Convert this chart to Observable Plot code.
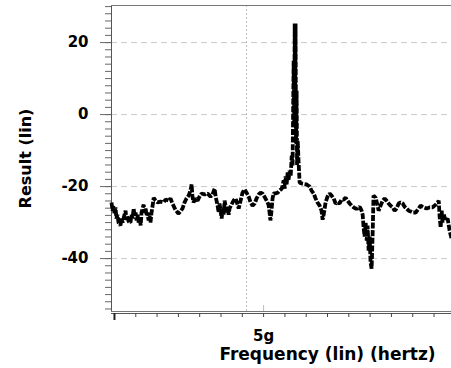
<!DOCTYPE html>
<html>
<head>
<meta charset="utf-8">
<script src="https://cdn.jsdelivr.net/npm/d3@7"></script>
<script src="https://cdn.jsdelivr.net/npm/@observablehq/plot@0.6"></script>
<style>
  html, body { margin: 0; padding: 0; background: #fff; }
</style>
</head>
<body>
<div id="chart"></div>
<script>
// Frequency in GHz (axis label "5g" = 5 GHz)
const freq = [4.286,4.291,4.295,4.300,4.305,4.309,4.314,4.319,4.328,4.333,4.338,4.347,4.352,4.356,4.361,4.366,4.375,4.380,4.385,4.390,4.394,4.399,4.404,4.408,4.413,4.418,4.423,4.427,4.432,4.437,4.441,4.446,4.451,4.455,4.460,4.465,4.469,4.474,4.479,4.484,4.493,4.502,4.516,4.530,4.540,4.554,4.563,4.572,4.586,4.600,4.610,4.619,4.629,4.638,4.648,4.657,4.662,4.666,4.671,4.680,4.690,4.699,4.709,4.723,4.737,4.751,4.760,4.770,4.775,4.779,4.784,4.789,4.793,4.798,4.803,4.808,4.812,4.817,4.822,4.826,4.831,4.836,4.840,4.849,4.859,4.868,4.878,4.883,4.892,4.901,4.911,4.920,4.930,4.939,4.948,4.958,4.967,4.977,4.986,4.995,5.004,5.014,5.023,5.028,5.032,5.037,5.042,5.047,5.056,5.066,5.075,5.085,5.089,5.094,5.099,5.103,5.108,5.113,5.117,5.122,5.127,5.132,5.136,5.141,5.144,5.146,5.148,5.150,5.152,5.155,5.157,5.160,5.164,5.169,5.183,5.202,5.216,5.225,5.235,5.244,5.253,5.263,5.272,5.277,5.282,5.291,5.300,5.310,5.319,5.329,5.338,5.347,5.357,5.366,5.376,5.385,5.394,5.404,5.413,5.423,5.432,5.441,5.451,5.460,5.465,5.469,5.474,5.479,5.484,5.488,5.493,5.498,5.502,5.507,5.512,5.516,5.526,5.535,5.540,5.549,5.559,5.568,5.577,5.587,5.596,5.606,5.615,5.624,5.634,5.643,5.653,5.662,5.671,5.681,5.690,5.700,5.714,5.728,5.737,5.751,5.765,5.779,5.793,5.808,5.817,5.822,5.826,5.831,5.836,5.840,5.845,5.854,5.864,5.873,5.882];
const result = [-24.4,-26.7,-25.3,-27.5,-25.8,-28.9,-27.8,-30.0,-30.8,-28.9,-30.0,-27.8,-26.7,-29.2,-28.1,-29.7,-30.0,-27.8,-28.9,-26.1,-28.1,-27.2,-29.4,-27.8,-30.0,-28.9,-30.8,-27.2,-26.1,-25.0,-27.2,-26.1,-28.1,-27.2,-29.4,-28.1,-30.0,-27.2,-25.3,-23.1,-23.9,-24.4,-24.2,-24.4,-23.6,-23.9,-23.3,-24.7,-26.4,-27.5,-26.9,-26.1,-24.4,-23.3,-22.5,-21.1,-19.4,-22.8,-24.4,-23.3,-23.9,-22.8,-21.9,-22.2,-21.9,-22.8,-22.2,-20.6,-22.8,-23.9,-25.3,-27.2,-24.7,-26.7,-28.9,-26.1,-27.8,-23.9,-25.6,-27.2,-25.6,-27.8,-26.1,-25.0,-23.9,-23.3,-25.0,-26.1,-23.9,-21.7,-20.8,-21.7,-22.8,-24.4,-25.3,-24.7,-23.3,-22.2,-21.7,-21.9,-22.8,-23.9,-25.0,-27.2,-29.4,-26.7,-23.3,-21.9,-21.9,-21.7,-21.1,-20.6,-19.7,-18.3,-20.6,-17.2,-19.4,-16.1,-18.3,-15.6,-17.2,-11.4,-14.2,15.0,-2.0,25.3,5.0,25.3,-8.0,6.7,-14.0,-7.2,-12.8,-18.9,-19.2,-19.4,-20.0,-21.1,-21.9,-23.3,-24.4,-25.3,-26.7,-29.2,-27.8,-24.4,-22.8,-21.9,-22.5,-23.3,-24.7,-24.4,-24.7,-23.6,-23.6,-23.1,-23.9,-24.7,-25.3,-25.8,-26.1,-26.1,-25.6,-26.7,-27.8,-31.1,-33.9,-30.0,-35.0,-30.8,-37.8,-33.9,-41.1,-42.8,-32.8,-22.5,-23.1,-25.3,-26.7,-25.3,-23.9,-23.3,-23.9,-24.7,-25.3,-25.8,-26.7,-26.1,-24.7,-24.4,-24.7,-25.6,-26.1,-26.7,-26.9,-27.2,-27.2,-26.1,-25.3,-25.8,-26.1,-25.8,-25.8,-25.0,-24.4,-23.9,-28.1,-31.4,-26.7,-30.0,-27.5,-29.4,-28.9,-32.2,-34.4];

const yMajor = [-40, -20, 0, 20];
const yMinor = d3.range(-54, 31, 2);
const xMinor = d3.range(43, 59).map(d => d / 10);   // 4.3 ... 5.8 GHz
const xLabelTicks = [5];
const xLabelText = ["5g"];
const markerFreq = [4.92];
const xTitle = "Frequency (lin) (hertz)";
const yTitle = "Result (lin)";

const xDomain = [4.286, 5.882];
const yDomain = [-54.7, 30.3];

const data = freq.map((f, i) => ({f, v: result[i]}));
const font = "DejaVu Sans, Liberation Sans, Arial, sans-serif";

const chart = Plot.plot({
  width: 451,
  height: 368,
  marginLeft: 111,
  marginRight: 0,
  marginTop: 5,
  marginBottom: 57,
  style: {fontFamily: font, background: "#fff"},
  x: {domain: xDomain},
  y: {domain: yDomain},
  marks: [
    Plot.ruleY(yMajor, {stroke: "#c8c8c8", strokeDasharray: "6,4", strokeWidth: 1}),
    Plot.ruleX(markerFreq, {stroke: "#bdbdbd", strokeDasharray: "2,2", strokeWidth: 1}),
    // frame
    Plot.ruleX([xDomain[0]], {stroke: "#555", strokeWidth: 1}),
    Plot.ruleY([yDomain[1]], {stroke: "#777", strokeWidth: 1}),
    Plot.ruleY([yDomain[0]], {stroke: "#777", strokeWidth: 1}),
    Plot.ruleY([yDomain[0]], {stroke: "#555", strokeWidth: 1, dy: 2}),
    // y ticks
    Plot.axisY({ticks: yMinor, tickSize: 6, tickFormat: () => "", stroke: "#666", label: null}),
    Plot.axisY({ticks: yMajor, tickSize: 11, tickPadding: 12, stroke: "#666", fill: "#000",
      fontSize: 15, fontWeight: "bold", label: null, tickFormat: d => String(d)}),
    // x ticks
    Plot.axisX({ticks: xMinor, tickSize: 4, dy: 2, tickFormat: () => "", stroke: "#444", label: null}),
    Plot.axisX({ticks: [4.3], tickSize: 7, dy: 2, tickFormat: () => "", stroke: "#222", strokeWidth: 2, label: null}),
    Plot.axisX({ticks: xLabelTicks, tickSize: 0, tickPadding: 19, tickFormat: (d, i) => xLabelText[i],
      fontSize: 15, fontWeight: "bold", fill: "#000", label: null}),
    Plot.tickX(xLabelTicks, {stroke: "#bbb", strokeWidth: 1, insetTop: 300}),
    // trace
    Plot.line(data, {x: "f", y: "v", stroke: "#000", strokeWidth: 3.8, strokeDasharray: "6,1.6",
      strokeLinecap: "butt", strokeLinejoin: "miter", curve: "linear"}),
    // titles
    Plot.text([xTitle], {frameAnchor: "bottom", dx: 46, dy: 48, fontSize: 17, fontWeight: "bold", fill: "#000",
      letterSpacing: "1.9px"}),
    Plot.text([yTitle], {frameAnchor: "left", textAnchor: "middle", rotate: -90, dx: -86, dy: 0,
      fontSize: 16, fontWeight: "bold", fill: "#000", letterSpacing: "0.4px"})
  ]
});
document.getElementById("chart").appendChild(chart);
</script>
</body>
</html>
